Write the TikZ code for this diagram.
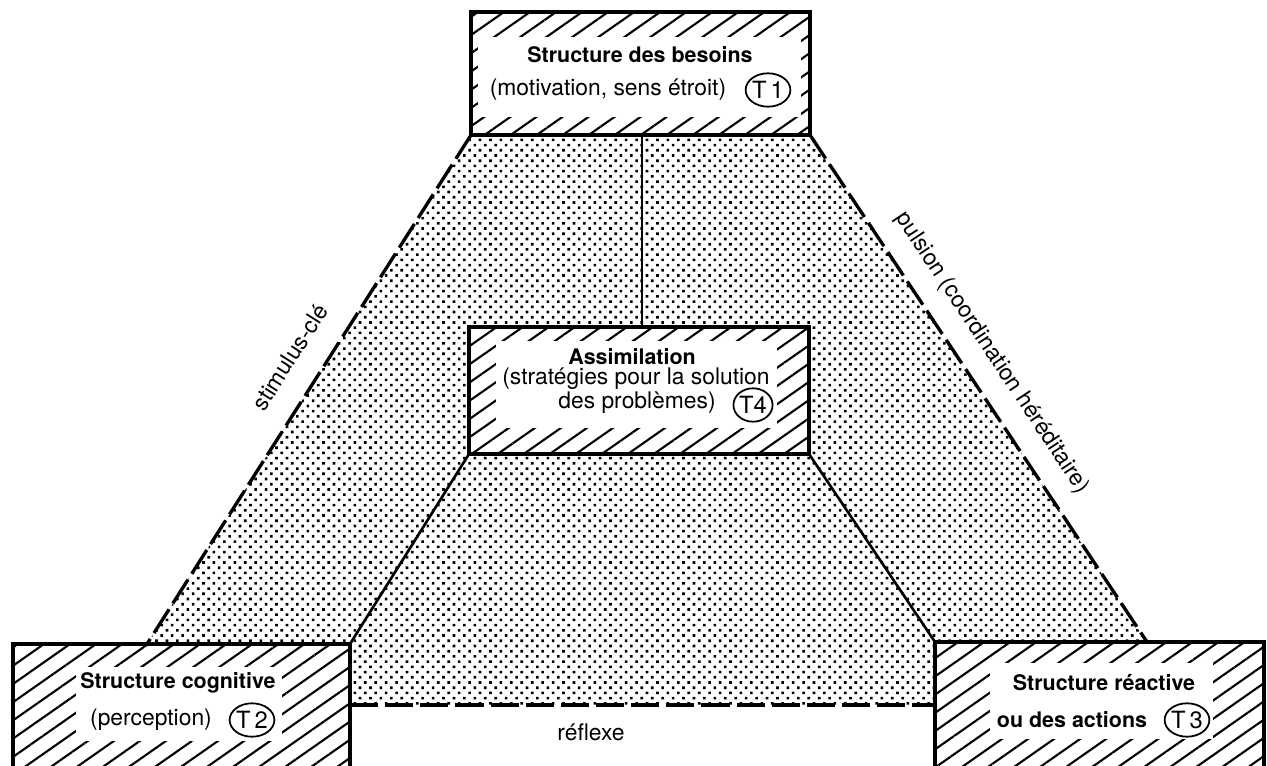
\documentclass[tikz,border=0pt]{standalone}
\usepackage{fontspec}
\setmainfont{TeX Gyre Heros}
\usetikzlibrary{patterns.meta,shapes.geometric}
\begin{document}
\begin{tikzpicture}[x=0.02cm,y=-0.02cm,
  boxframe/.style={line width=2.3pt},
  hatchfill/.style={pattern={Lines[angle=35,distance=8.5pt,line width=1.2pt]}},
  dotfill/.style={pattern={Dots[distance=4.2pt,radius=1.05pt,angle=45]}},
  dashedge/.style={line width=1.9pt,dash pattern=on 16pt off 4pt},
  solidedge/.style={line width=1.5pt},
  title/.style={font=\fontsize{12.2}{14}\selectfont\bfseries,inner sep=0pt},
  sub/.style={font=\fontsize{13}{15}\selectfont,inner sep=0pt},
  tag/.style={ellipse,draw,line width=1pt,minimum width=22pt,minimum height=19pt,inner sep=0pt,font=\fontsize{13.5}{15}\selectfont}
]
\useasboundingbox (0,0) rectangle (1267,766);
\clip (0,0) rectangle (1267,766);
\fill[white] (0,0) rectangle (1267,766);

% corner coordinates
\coordinate (t1nw) at (471,12);   \coordinate (t1se) at (810,135);
\coordinate (t1sw) at (471,135);  \coordinate (t1se2) at (810,135);
\coordinate (t4nw) at (469,327);  \coordinate (t4se) at (809,454);
\coordinate (t4sw) at (469,454);  \coordinate (t4ne) at (809,327);
\coordinate (t2nw) at (13,644);   \coordinate (t2se) at (350,790);
\coordinate (t2ne) at (350,644);
\coordinate (t3nw) at (935,642);  \coordinate (t3se) at (1264,790);
\coordinate (lfoot) at (147,644); \coordinate (rfoot) at (1147,642);
\coordinate (rl) at (350,705);    \coordinate (rr) at (935,705);
\coordinate (vtop) at (642,135);  \coordinate (vbot) at (642,327);

% dotted region
\fill[dotfill] (t1sw) -- (t1se2) -- (rfoot) -- (t3nw) -- (rr) -- (rl) -- (t2ne) -- (lfoot) -- cycle;

% edges
\draw[dashedge] (t1sw) -- (lfoot);
\draw[dashedge] (t1se2) -- (rfoot);
\draw[dashedge] (rl) -- (rr);
\draw[solidedge] (t4sw) -- (t2ne);
\draw[solidedge] (t4se) -- (t3nw);
\draw[solidedge] (vtop) -- (vbot);

% boxes
\foreach \a/\b/\c/\d in {t1nw/t1se/{478,37}/{801,117}, t4nw/t4se/{496,341}/{777,428}, t2nw/t2se/{76,667}/{282,741}, t3nw/t3se/{990,663}/{1213,739}}{
  \fill[white] (\a) rectangle (\b);
  \fill[hatchfill] (\a) rectangle (\b);
  \fill[white] (\c) rectangle (\d);
  \draw[boxframe] (\a) rectangle (\b);
}

% T1
\node[title] (t1a) at (640,55) {Structure des besoins};
\node[sub] (t1b) at (608,90) {(motivation, sens étroit)};
\node[tag] (t1c) at (768,90) {T\,1};

% T4
\node[title] (t4a) at (632,357) {Assimilation};
\node[sub] (t4b) at (636,379) {(stratégies pour la solution};
\node[sub] (t4c) at (637,403) {des problèmes)};
\node[tag] (t4d) at (753,405) {T4};

% T2
\node[title] (t2a) at (178,683) {Structure cognitive};
\node[sub] (t2b) at (151,720) {(perception)};
\node[tag] (t2c) at (252,720) {T\,2};

% T3
\node[title] (t3a) at (1104,683) {Structure réactive};
\node[title] (t3b) at (1072,720) {ou des actions};
\node[tag] (t3c) at (1187,720) {T\,3};

% edge labels
\node[sub,rotate=57.5] (lab1) at (290,357) {stimulus-clé};
\node[sub,rotate=-56.4] (lab2) at (992,353) {pulsion (coordination héréditaire)};
\node[sub] (lab3) at (591,732) {réflexe};
\end{tikzpicture}
\end{document}
